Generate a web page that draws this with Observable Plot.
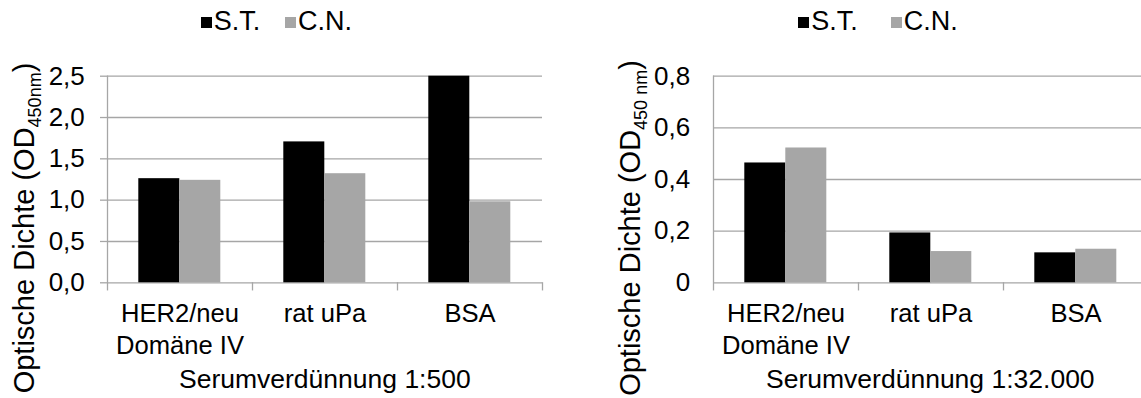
<!DOCTYPE html>
<html>
<head>
<meta charset="utf-8">
<script src="https://cdn.jsdelivr.net/npm/d3@7"></script>
<script src="https://cdn.jsdelivr.net/npm/@observablehq/plot@0.6"></script>
<style>
html, body { margin: 0; padding: 0; background: #fff; }
#root { position: relative; width: 1141px; height: 398px; overflow: hidden; font-family: "Liberation Sans", Arial, sans-serif; color: #000; }
.panel { position: absolute; top: 0; height: 398px; }
.panel svg { position: absolute; top: 50px; left: 0; }
.sw { position: absolute; top: 17px; width: 11px; height: 11px; }
.lt { position: absolute; top: 8px; font-size: 27px; line-height: 27px; white-space: nowrap; }
</style>
</head>
<body>
<div id="root"></div>
<script>
// ---- data ----
const categories = ["HER2/neu\nDomäne IV", "rat uPa", "BSA"];
const seriesNames = ["S.T.", "C.N."];
const seriesColors = ["#000000", "#a6a6a6"];
const st500 = [1.26, 1.705, 2.5];
const cn500 = [1.24, 1.32, 0.98];
const st32000 = [0.464, 0.193, 0.116];
const cn32000 = [0.522, 0.121, 0.130];
const ticks500 = [0, 0.5, 1.0, 1.5, 2.0, 2.5];
const ticks32000 = [0, 0.2, 0.4, 0.6, 0.8];
const title500 = "Serumverdünnung 1:500";
const title32000 = "Serumverdünnung 1:32.000";
const yLabelMain = "Optische Dichte (OD";
const yLabelSub500 = "450nm";
const yLabelSub32000 = "450 nm";

const comma = d => d3.format(".1f")(d).replace(".", ",");
const fmt500 = d => comma(d);
const fmt32000 = d => d === 0 ? "0" : comma(d);

const grey = "#a6a6a6";
const root = document.getElementById("root");

function panel(o) {
  const data = categories.flatMap((c, i) => [
    {cat: c, s: seriesNames[0], v: o.st[i]},
    {cat: c, s: seriesNames[1], v: o.cn[i]}
  ]);
  const H = 348, mt = 25.7, mb = 115.7, plotH = H - mt - mb;
  const svg = Plot.plot({
    width: o.width, height: H,
    marginTop: mt, marginBottom: mb, marginLeft: o.marginLeft, marginRight: o.marginRight,
    style: {fontFamily: '"Liberation Sans", Arial, sans-serif', fontSize: "26px", color: "#000", background: "transparent"},
    fx: {domain: categories, paddingInner: 0, paddingOuter: 0, axis: null, label: null},
    x: {domain: seriesNames, paddingInner: 0, paddingOuter: 0.758, axis: null},
    y: {domain: [0, o.yMax], axis: null},
    color: {domain: seriesNames, range: seriesColors},
    marks: [
      Plot.gridY(o.ticks, {stroke: grey, strokeOpacity: 1, strokeWidth: 1.3}),
      Plot.barY(data, {fx: "cat", x: "s", y: "v", fill: "s"}),
      Plot.frame({anchor: "left", facetAnchor: "left", stroke: grey, strokeOpacity: 1, strokeWidth: 1.3, insetBottom: -7}),
      Plot.frame({anchor: "right", stroke: grey, strokeOpacity: 1, strokeWidth: 1.3, insetTop: plotH, insetBottom: -7}),
      Plot.axisY(o.ticks, {tickSize: o.tickSize, tickPadding: o.tickPadding, tickFormat: o.fmt, fontSize: 26, stroke: grey, strokeWidth: 1.3, fill: "#000", label: null}),
      Plot.axisFx({anchor: "bottom", tickSize: 0, tickPadding: 16, fontSize: 25.6, lineHeight: 1.25, fill: "#000", label: null})
    ]
  });
  const sel = d3.select(svg);
  const yl = sel.append("text")
    .attr("transform", `translate(${o.yLabelX},${178}) rotate(-90)`)
    .attr("text-anchor", "middle").attr("font-size", 29).attr("fill", "#000");
  yl.append("tspan").text(yLabelMain);
  yl.append("tspan").attr("dy", 7).attr("font-size", 18).text(o.sub);
  yl.append("tspan").attr("dy", -7).text(")");
  sel.append("text")
    .attr("x", o.marginLeft + (o.width - o.marginLeft - o.marginRight) / 2)
    .attr("y", 338).attr("text-anchor", "middle").attr("font-size", 26.5).attr("fill", "#000")
    .text(o.title);

  const div = document.createElement("div");
  div.className = "panel";
  div.style.left = o.left + "px";
  div.style.width = o.width + "px";
  seriesNames.forEach((name, i) => {
    const sw = document.createElement("div");
    sw.className = "sw";
    sw.style.left = o.legendX[i] + "px";
    sw.style.background = seriesColors[i];
    const lt = document.createElement("div");
    lt.className = "lt";
    lt.style.left = (o.legendX[i] + 13) + "px";
    lt.textContent = name;
    div.appendChild(sw); div.appendChild(lt);
  });
  div.appendChild(svg);
  root.appendChild(div);
}

panel({left: 0, width: 570, marginLeft: 106.7, marginRight: 27, st: st500, cn: cn500, yMax: 2.5,
  ticks: ticks500, fmt: fmt500, tickSize: 7, tickPadding: 15.7, title: title500, sub: yLabelSub500,
  yLabelX: 34, legendX: [200.7, 285]});
panel({left: 570, width: 579, marginLeft: 141.7, marginRight: 0, st: st32000, cn: cn32000, yMax: 0.8,
  ticks: ticks32000, fmt: fmt32000, tickSize: 0, tickPadding: 23.4, title: title32000, sub: yLabelSub32000,
  yLabelX: 70, legendX: [228.3, 320.7]});
</script>
</body>
</html>
